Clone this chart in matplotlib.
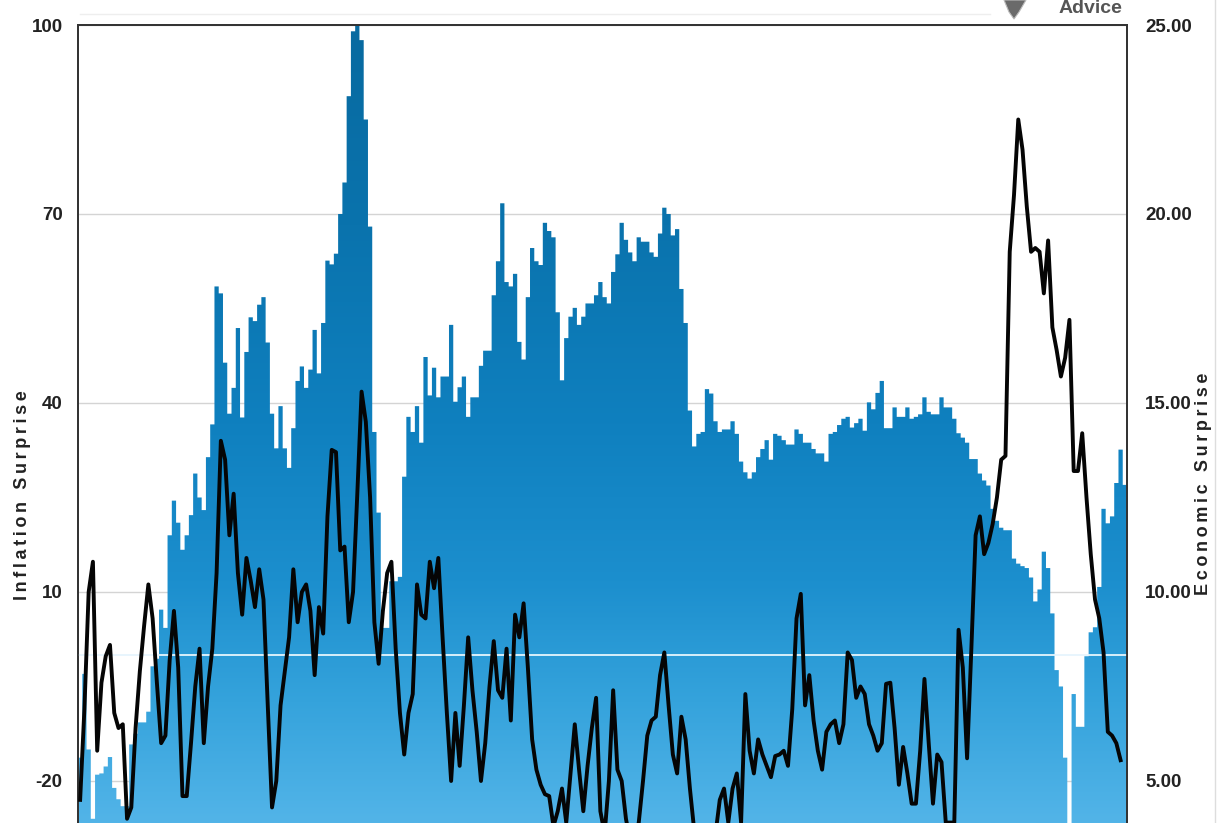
import numpy as np
import matplotlib
matplotlib.use("Agg")
import matplotlib.pyplot as plt
from matplotlib.path import Path
from matplotlib.patches import PathPatch, Polygon
from matplotlib.colors import LinearSegmentedColormap

# ---------------- data ----------------
inflation_surprise = [
    -16.3, -3.0, -15.0, -26.0, -19.0, -18.8, -17.7, -16.2, -21.1, -22.9,
    -24.0, -24.0, -14.2, -12.5, -10.7, -10.7, -9.0, -1.8, -0.6, 7.2,
    4.3, 19.0, 24.5, 21.0, 16.7, 19.0, 22.2, 28.8, 25.0, 23.0,
    31.4, 36.6, 58.5, 57.4, 46.4, 38.3, 42.4, 51.9, 37.7, 48.1,
    53.6, 53.0, 55.6, 56.8, 49.6, 38.3, 32.8, 39.5, 32.8, 29.7,
    36.0, 43.5, 45.8, 42.4, 45.3, 51.6, 44.7, 52.7, 62.6, 62.0,
    63.7, 70.0, 75.0, 88.7, 99.0, 100.0, 97.6, 85.0, 68.0, 35.4,
    22.6, 4.3, 4.3, 11.7, 11.7, 12.4, 28.3, 37.8, 35.4, 39.5,
    33.7, 47.3, 41.2, 45.6, 40.9, 44.2, 44.2, 52.4, 40.2, 42.5,
    44.2, 37.8, 40.9, 40.9, 45.9, 48.3, 48.3, 57.1, 62.5, 71.7,
    59.2, 58.5, 60.5, 49.7, 46.9, 56.8, 64.6, 62.5, 61.9, 68.6,
    67.3, 66.3, 54.4, 43.6, 50.3, 53.7, 55.1, 52.4, 53.7, 55.8,
    55.8, 57.1, 59.2, 56.8, 55.8, 60.8, 63.6, 68.6, 65.9, 63.9,
    62.5, 66.3, 65.6, 65.6, 63.9, 63.2, 66.9, 71.0, 70.0, 66.6,
    67.6, 58.1, 52.7, 38.8, 33.1, 35.1, 35.4, 42.2, 41.5, 37.1,
    35.4, 35.8, 35.8, 37.1, 35.1, 30.7, 29.0, 28.0, 29.0, 31.4,
    32.7, 34.1, 31.0, 35.1, 34.8, 34.1, 33.4, 33.4, 35.8, 35.1,
    33.7, 33.7, 32.7, 32.0, 32.0, 30.7, 35.1, 35.4, 36.5, 37.5,
    37.8, 36.1, 36.8, 37.5, 35.6, 40.1, 39.0, 41.6, 43.5, 36.0,
    36.0, 39.3, 37.8, 37.8, 39.3, 37.5, 37.8, 38.2, 40.9, 38.6,
    38.2, 38.2, 40.9, 39.3, 39.3, 37.5, 35.2, 34.5, 33.7, 31.1,
    31.1, 28.8, 27.7, 26.9, 23.2, 21.3, 20.2, 19.8, 19.8, 15.3,
    14.5, 14.1, 13.8, 12.3, 8.5, 10.4, 16.4, 13.8, 6.6, -2.4,
    -5.0, -16.3, -30.0, -6.2, -11.4, -11.4, -0.2, 3.6, 4.4, 10.8,
    23.2, 20.9, 22.0, 27.3, 32.6, 27.0,
]

economic_surprise = [
    4.5, 6.9, 10.0, 10.8, 5.8, 7.6, 8.3, 8.6, 6.8, 6.4,
    6.5, 4.0, 4.3, 6.4, 7.9, 9.1, 10.2, 9.3, 7.6, 6.0,
    6.2, 8.2, 9.5, 8.0, 4.6, 4.6, 6.0, 7.5, 8.5, 6.0,
    7.5, 8.5, 10.5, 14.0, 13.5, 11.5, 12.6, 10.5, 9.4, 10.9,
    10.3, 9.6, 10.6, 9.8, 7.0, 4.3, 5.0, 7.0, 7.9, 8.8,
    10.6, 9.2, 10.0, 10.2, 9.5, 7.8, 9.6, 8.9, 12.0, 13.76,
    13.7, 11.1, 11.2, 9.2, 10.0, 12.6, 15.3, 14.5, 12.5, 9.2,
    8.1, 9.5, 10.5, 10.8, 8.5, 6.8, 5.7, 6.8, 7.3, 10.2,
    9.4, 9.3, 10.8, 10.1, 10.9, 8.8, 6.8, 5.0, 6.8, 5.4,
    7.0, 8.8, 7.4, 6.3, 5.0, 6.0, 7.5, 8.7, 7.4, 7.2,
    8.5, 6.6, 9.4, 8.8, 9.7, 8.0, 6.1, 5.3, 4.9, 4.65,
    4.6, 3.8, 4.2, 4.8, 3.9, 5.2, 6.5, 5.3, 4.2, 5.4,
    6.4, 7.2, 4.2, 3.6, 5.0, 7.4, 5.3, 5.0, 4.0, 3.4,
    3.5, 3.9, 5.0, 6.2, 6.6, 6.7, 7.8, 8.4, 7.0, 5.7,
    5.2, 6.7, 6.1, 4.8, 3.7, 3.2, 3.0, 3.0, 3.2, 3.6,
    4.5, 4.8, 3.9, 4.8, 5.2, 3.9, 7.3, 5.8, 5.2, 6.1,
    5.7, 5.4, 5.1, 5.66, 5.7, 5.8, 5.4, 6.9, 9.3, 9.95,
    7.0, 7.8, 6.6, 5.8, 5.3, 6.3, 6.5, 6.6, 6.0, 6.5,
    8.4, 8.2, 7.2, 7.5, 7.3, 6.5, 6.2, 5.8, 6.0, 7.57,
    7.6, 6.4, 4.9, 5.9, 5.2, 4.4, 4.4, 5.8, 7.7, 6.0,
    4.4, 5.7, 5.5, 3.9, 3.9, 3.9, 9.0, 8.0, 5.6, 8.5,
    11.5, 12.0, 11.0, 11.3, 11.8, 12.5, 13.5, 13.6, 19.0, 20.5,
    22.5, 21.7, 20.2, 19.0, 19.1, 19.0, 17.9, 19.3, 17.0, 16.4,
    15.7, 16.2, 17.2, 13.2, 13.2, 14.2, 12.5, 11.0, 9.8, 9.3,
    8.4, 6.3, 6.2, 6.0, 5.55, None,
]

left_ticks = [-20, 10, 40, 70, 100]
left_tick_labels = ["-20", "10", "40", "70", "100"]
right_ticks = [5, 10, 15, 20, 25]
right_tick_labels = ["5.00", "10.00", "15.00", "20.00", "25.00"]
left_title = "Inflation Surprise"
right_title = "Economic Surprise"


def spaced(s, gap="\u2009"):
    # letter-spaced title (thin spaces between letters, wider gap between words)
    return (gap + " " + gap).join(gap.join(word) for word in s.split(" "))


# ---------------- figure ----------------
W, H = 1218, 823
fig = plt.figure(figsize=(W / 100, H / 100), dpi=100)
fig.patch.set_facecolor("white")

ax_left = 78 / W
ax_w = (1127 - 78) / W
ax_top = 1 - 25 / H
ax = fig.add_axes([ax_left, 0.0, ax_w, ax_top])

y_bottom = -26.67
ax.set_ylim(y_bottom, 100)
n = len(inflation_surprise)
ax.set_xlim(-0.5, n - 0.5)

x = np.arange(n)
infl = np.array(inflation_surprise, dtype=float)
base = -40.0
bars = ax.bar(x, infl - base, bottom=base, width=1.0, color="none",
              edgecolor="none", linewidth=0, zorder=2)

# gradient fill clipped to the bars
paths = [b.get_path().transformed(b.get_patch_transform()) for b in bars]
compound = Path.make_compound_path(*paths)
clip_patch = PathPatch(compound, transform=ax.transData, facecolor="none",
                       edgecolor="none")
ax.add_patch(clip_patch)

cmap = LinearSegmentedColormap.from_list(
    "blues_grad",
    [(0.0, "#52b4e8"), (0.15, "#35a3dc"), (0.3, "#1c8fce"),
     (0.5, "#0f80bf"), (0.75, "#0a73ad"), (1.0, "#086aa0")])
grad = np.linspace(0, 1, 400).reshape(-1, 1)
im = ax.imshow(grad, cmap=cmap, aspect="auto", origin="lower",
               extent=[-0.5, n - 0.5, y_bottom, 100], zorder=2,
               interpolation="bicubic")
im.set_clip_path(clip_patch)

# grid lines
for t in left_ticks:
    ax.axhline(t, color="#d4d4d4", lw=1.0, zorder=1)
# zero line over bars
ax.axhline(0, color="#e6f5fd", lw=1.3, zorder=3)

tick_fonts = ["Liberation Sans Narrow", "Liberation Sans", "DejaVu Sans"]
title_fonts = ["Liberation Sans", "DejaVu Sans"]

ax.set_yticks(left_ticks)
ax.set_yticklabels(left_tick_labels)
ax.set_xticks([])
ax.tick_params(axis="y", length=0, pad=11, labelsize=13.5, labelcolor="#222222")
for lab in ax.get_yticklabels():
    lab.set_fontfamily(tick_fonts)
    lab.set_fontweight("bold")

for side in ["top", "left", "right"]:
    ax.spines[side].set_color("#333333")
    ax.spines[side].set_linewidth(1.3)
ax.spines["bottom"].set_visible(False)

ax.set_ylabel(spaced(left_title), fontsize=13, fontweight="bold",
              color="#222222", family=title_fonts)
ax.yaxis.set_label_coords(-0.0445, 0.411)

# right axis line
ax2 = ax.twinx()
ax2.set_ylim(5 + (y_bottom + 20) / 6.0, 25)
ax2.set_xlim(-0.5, n - 0.5)
econ = np.array([np.nan if v is None else v for v in economic_surprise], dtype=float)
ax2.plot(x, econ, color="#050505", lw=2.8, solid_joinstyle="round", zorder=5)
ax2.set_yticks(right_ticks)
ax2.set_yticklabels(right_tick_labels)
ax2.tick_params(axis="y", length=0, pad=13, labelsize=13.5, labelcolor="#222222")
for lab in ax2.get_yticklabels():
    lab.set_fontfamily(tick_fonts)
    lab.set_fontweight("bold")
for side in ["top", "left", "right"]:
    ax2.spines[side].set_color("#333333")
    ax2.spines[side].set_linewidth(1.3)
ax2.spines["bottom"].set_visible(False)
ax2.set_ylabel(spaced(right_title), fontsize=13, fontweight="bold",
               color="#222222", family=title_fonts)
ax2.yaxis.set_label_coords(1.0648, 0.425)

# logo fragments at the top
fig.text(1090 / W, 1 - 17 / H, "Advice", ha="center", va="bottom",
         fontsize=14, fontweight="bold", color="#555555",
         family=title_fonts)
shield = Polygon([[1004 / W, 1.0], [1026 / W, 1.0], [1019 / W, 1 - 12 / H],
                  [1014 / W, 1 - 19 / H], [1009 / W, 1 - 12 / H]],
                 closed=True, transform=fig.transFigure,
                 facecolor="#6a6a6a", edgecolor="#bbbbbb", lw=0.8)
fig.patches.append(shield)
fig.add_artist(plt.Line2D([80 / W, 990 / W], [1 - 14 / H, 1 - 14 / H],
                          transform=fig.transFigure, color="#eeeeee", lw=1))
fig.add_artist(plt.Line2D([1215 / W, 1215 / W], [0, 1],
                          transform=fig.transFigure, color="#dddddd", lw=1))

fig.savefig("out.png", dpi=100, facecolor="white")
